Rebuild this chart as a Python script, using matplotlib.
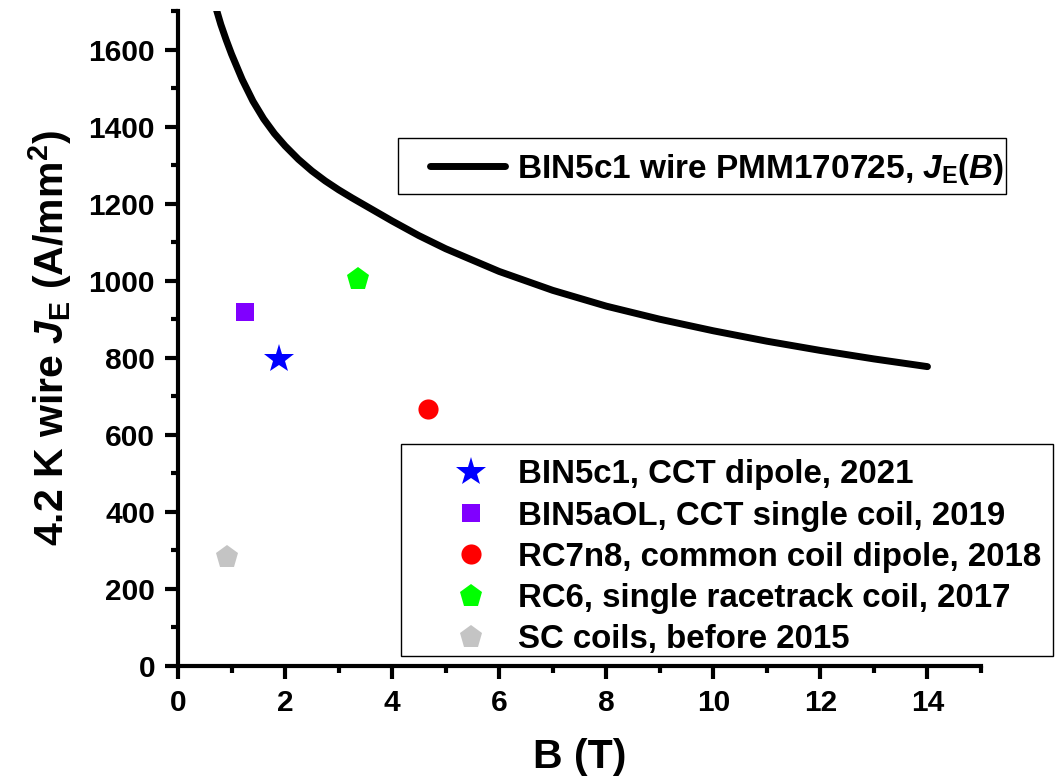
import matplotlib
matplotlib.use("Agg")
import matplotlib.pyplot as plt
from matplotlib.patches import Rectangle
from matplotlib.ticker import MultipleLocator

plt.rcParams["font.family"] = ["Liberation Sans", "DejaVu Sans"]
plt.rcParams["font.weight"] = "bold"
plt.rcParams["mathtext.fontset"] = "custom"
plt.rcParams["mathtext.rm"] = "Liberation Sans:bold"
plt.rcParams["mathtext.it"] = "Liberation Sans:bold:italic"
plt.rcParams["mathtext.bf"] = "Liberation Sans:bold"

# J_E(B) curve of wire PMM170725
curve_B = [0.70, 0.80, 0.90, 1.0, 1.2, 1.4, 1.6, 1.8, 2.0, 2.25, 2.5, 2.75, 3.0,
           3.25, 3.5, 4.0, 4.5, 5.0, 6.0, 7.0, 8.0, 9.0, 10.0, 11.0, 12.0, 13.0, 14.0]
curve_J = [1712, 1665, 1625, 1588, 1522, 1466, 1420, 1382, 1350, 1315, 1285, 1259, 1236,
           1215, 1195, 1155, 1117, 1083, 1024, 975, 934, 900, 870, 843, 819, 797, 777]

# coil test results
coil_names = ["BIN5c1, CCT dipole, 2021",
              "BIN5aOL, CCT single coil, 2019",
              "RC7n8, common coil dipole, 2018",
              "RC6, single racetrack coil, 2017",
              "SC coils, before 2015"]
coil_B = [1.88, 1.25, 4.67, 3.36, 0.91]
coil_J = [797, 918, 667, 1005, 282]
coil_markers = ["*", "s", "o", "p", "p"]
coil_colors = ["#0000FF", "#8000FF", "#FF0000", "#00FF00", "#C4C4C4"]
coil_sizes = [22, 13, 14.5, 17, 17]

fig = plt.figure(figsize=(10.56, 7.82), dpi=100)
ax = fig.add_axes([178 / 1056, 116 / 782, 803 / 1056, 655 / 782])

line, = ax.plot(curve_B, curve_J, color="black", lw=5, solid_capstyle="round")

handles = []
for b, j, m, c, s in zip(coil_B, coil_J, coil_markers, coil_colors, coil_sizes):
    h, = ax.plot([b], [j], linestyle="none", marker=m, color=c, markersize=s,
                 markeredgewidth=0, clip_on=False)
    handles.append(h)

ax.set_xlim(0, 15)
ax.set_ylim(0, 1700)
ax.xaxis.set_major_locator(MultipleLocator(2))
ax.xaxis.set_minor_locator(MultipleLocator(1))
ax.yaxis.set_major_locator(MultipleLocator(200))
ax.yaxis.set_minor_locator(MultipleLocator(100))

for side in ["top", "right"]:
    ax.spines[side].set_visible(False)
for side in ["left", "bottom"]:
    ax.spines[side].set_linewidth(3)

ax.tick_params(which="major", length=9.5, width=3, labelsize=21.5, pad=7)
ax.tick_params(which="minor", length=5, width=3)
for lab in ax.get_xticklabels() + ax.get_yticklabels():
    lab.set_fontweight("bold")

ax.set_xlabel("B (T)", fontsize=29.5, fontweight="bold")
ax.set_ylabel("4.2 K wire $J_{\\mathrm{E}}$ (A/mm$^{\\mathrm{2}}$)", fontsize=29.5, fontweight="bold")
ax.xaxis.set_label_coords(0.5, -0.11)
ax.yaxis.set_label_coords(-0.13, 0.5)

# legend frames drawn by hand so the padding can differ per side
ax.add_patch(Rectangle((0.274, 0.7206), 1.031 - 0.274, 0.806 - 0.7206, transform=ax.transAxes,
                       fill=False, edgecolor="black", lw=1, clip_on=False))
ax.add_patch(Rectangle((0.2777, 0.0153), 1.0897 - 0.2777, 0.339 - 0.0153, transform=ax.transAxes,
                       fill=False, edgecolor="black", lw=1, clip_on=False))

leg1 = ax.legend([line], ["BIN5c1 wire PMM170725, $J_{\\mathrm{E}}$($B$)"],
                 loc="upper left", bbox_to_anchor=(0.3138, 0.785), borderaxespad=0,
                 borderpad=0, frameon=False, fontsize=24, handlelength=2.25,
                 handletextpad=0.37)
ax.add_artist(leg1)

leg2 = ax.legend(handles, coil_names, loc="upper left", bbox_to_anchor=(0.336, 0.3155),
                 borderaxespad=0, borderpad=0, frameon=False, fontsize=23.8,
                 handlelength=1.4, handletextpad=0.72, labelspacing=0.31, numpoints=1)

fig.savefig("out.png", dpi=100)
